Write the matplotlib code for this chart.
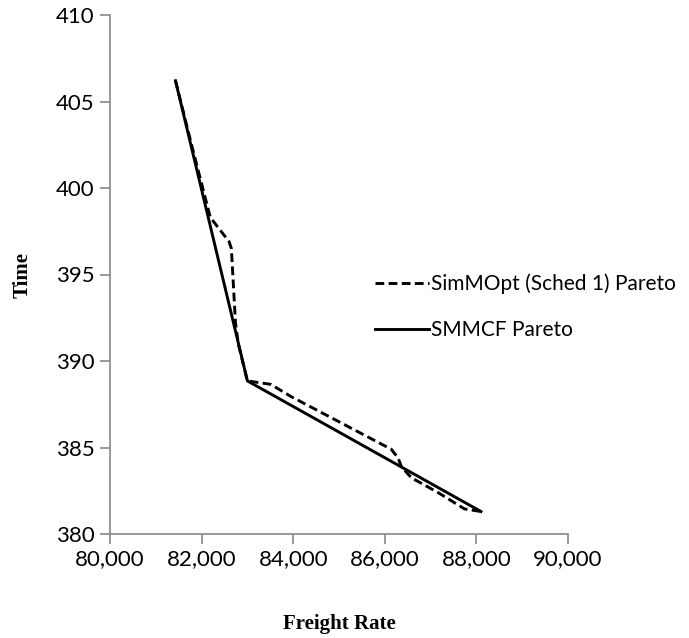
import matplotlib.pyplot as plt
from matplotlib.ticker import FuncFormatter

# SimMOpt (Sched 1) Pareto front (dashed)
sim_rate = [81430, 81800, 82190, 82600, 82650, 82740, 82800, 83000, 83510, 83950,
            86140, 86290, 86360, 86580, 87160, 87740, 88100]
sim_time = [406.2, 402.3, 398.3, 396.9, 396.5, 392.2, 391.0, 388.85, 388.65, 387.95,
            384.9, 384.4, 383.9, 383.25, 382.4, 381.45, 381.3]

# SMMCF Pareto front (solid)
smmcf_rate = [81430, 83000, 88100]
smmcf_time = [406.2, 388.85, 381.3]

tick_font = 'Lato'
label_font = 'Liberation Serif'

fig = plt.figure(figsize=(6.89, 6.38), dpi=100)
ax = fig.add_axes([110/689, 1 - 534/638, (568 - 110)/689, (534 - 15)/638])

ax.plot(sim_rate, sim_time, color='black', lw=2.1, linestyle=(0, (3.0, 1.5)),
        label='SimMOpt (Sched 1) Pareto')
ax.plot(smmcf_rate, smmcf_time, color='black', lw=2.1, label='SMMCF Pareto')

ax.set_xlim(80000, 90000)
ax.set_ylim(380, 410)
ax.set_xticks(range(80000, 90001, 2000))
ax.set_yticks(range(380, 411, 5))
ax.xaxis.set_major_formatter(FuncFormatter(lambda v, p: f'{int(v):,}'))

for s in ['top', 'right']:
    ax.spines[s].set_visible(False)
for s in ['left', 'bottom']:
    ax.spines[s].set_color('#888888')
    ax.spines[s].set_linewidth(1.2)
ax.tick_params(axis='both', direction='out', length=7, width=1.2, color='#888888',
               labelsize=16, pad=4)
for lab in ax.get_xticklabels() + ax.get_yticklabels():
    lab.set_fontfamily(tick_font)

ax.set_xlabel('Freight Rate', fontsize=15, fontweight='bold', family=label_font,
              labelpad=32)
ax.set_ylabel('Time', fontsize=15, fontweight='bold', family=label_font, labelpad=17)

leg = ax.legend(loc='center left', bbox_to_anchor=(375/689, 1 - 307/638),
                bbox_transform=fig.transFigure, frameon=False, borderpad=0,
                borderaxespad=0, handlelength=2.6, handletextpad=0.1,
                labelspacing=1.25, prop={'family': tick_font, 'size': 15})

fig.savefig('out.png', dpi=100)
